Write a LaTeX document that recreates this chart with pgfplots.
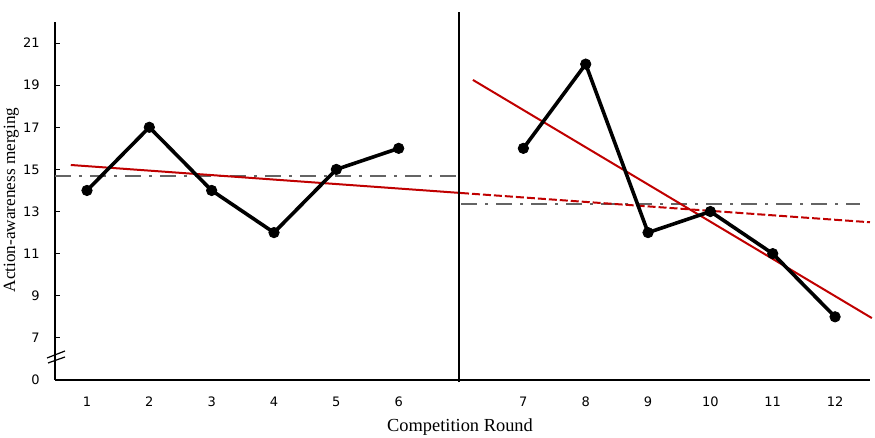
\documentclass[border=0pt]{standalone}
\usepackage{fontspec}
\setmainfont{Liberation Serif}
\newfontfamily\tickfont{DejaVu Sans}
\usepackage{pgfplots}
\pgfplotsset{compat=1.18}
\definecolor{regred}{RGB}{192,0,0}
\definecolor{meangray}{RGB}{100,100,100}
\begin{document}
\begin{tikzpicture}
\useasboundingbox (-27.5pt,-29pt) rectangle (410pt,190pt);
\begin{axis}[
  at={(0,0)}, anchor=south west,
  scale only axis, width=407.5pt, height=179pt,
  xmin=0.487, xmax=13.56, ymin=5, ymax=22,
  axis lines=left, axis line style={-, line width=0.75pt},
  xtick={1,2,3,4,5,6,8,9,10,11,12,13},
  xticklabels={1,2,3,4,5,6,7,8,9,10,11,12},
  ytick={5,7,9,11,13,15,17,19,21},
  yticklabels={0,7,9,11,13,15,17,19,21},
  tick align=inside, major tick length=2.5pt,
  xtick style={draw=none},
  ytick style={line width=0.5pt, black},
  /pgf/number format/assume math mode=true,
  ticklabel style={font=\tickfont\fontsize{6.5}{8}\selectfont},
  xticklabel style={anchor=center, yshift=-11pt},
  yticklabel style={anchor=east, inner sep=0pt, xshift=-7.5pt},
  clip=false,
]
\addplot[meangray, line width=1pt, dash pattern=on 8pt off 4pt on 1.5pt off 4pt] coordinates {(0.487,14.7)(6.92,14.7)};
\addplot[meangray, line width=1pt, dash pattern=on 8pt off 4pt on 1.5pt off 4pt] coordinates {(7,13.35)(13.4,13.35)};
\addplot[regred, line width=1pt] coordinates {(0.74,15.21)(7,13.88)};
\addplot[regred, line width=1pt, dash pattern=on 4pt off 1.5pt] coordinates {(7,13.88)(13.56,12.49)};
\addplot[regred, line width=1pt] coordinates {(7.19,19.25)(13.59,7.94)};
\addplot[black, line width=1pt] coordinates {(6.97,4.9)(6.97,22.47)};
\addplot[black, line width=1.8pt, mark=*, mark size=2.6pt, mark options={solid, line width=0.4pt, fill=black}] coordinates {(1,14)(2,17)(3,14)(4,12)(5,15)(6,16)};
\addplot[black, line width=1.8pt, mark=*, mark size=2.6pt, mark options={solid, line width=0.4pt, fill=black}] coordinates {(8,16)(9,20)(10,12)(11,13)(12,11)(13,8)};
\end{axis}
\node[font=\fontsize{9.2}{11}\selectfont, anchor=base] at (202.5pt,-26pt) {Competition Round};
\node[rotate=90, font=\fontsize{8.6}{10}\selectfont, inner sep=0pt] at (-21.8pt,90pt) {Action-awareness merging};
\draw[line width=0.6pt] (-4pt,11pt) -- (5pt,14.5pt);
\draw[line width=0.6pt] (-3.5pt,8.5pt) -- (5pt,11.5pt);
\end{tikzpicture}
\end{document}
